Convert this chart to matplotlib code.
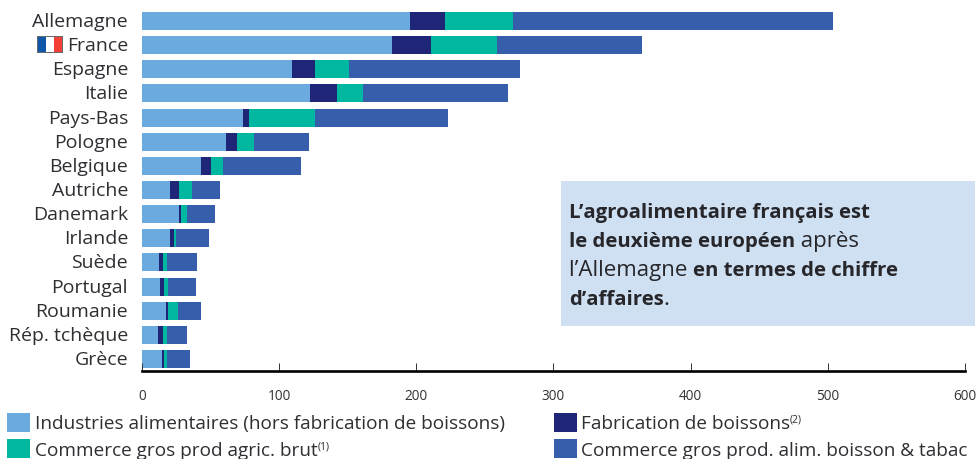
import matplotlib
matplotlib.use("Agg")
import matplotlib.pyplot as plt
from matplotlib.patches import Rectangle
from matplotlib.transforms import ScaledTranslation

countries = ["Allemagne", "France", "Espagne", "Italie", "Pays-Bas", "Pologne", "Belgique", "Autriche",
             "Danemark", "Irlande", "Suède", "Portugal", "Roumanie", "Rép. tchèque", "Grèce"]
industries = [195.4, 182, 109.4, 122.5, 73.5, 61, 43, 20.5, 27, 20.5, 12.4, 13, 17.5, 11.5, 14.6]
boissons = [25.6, 28.7, 16.6, 19.5, 4.5, 8, 7, 6.5, 1.4, 2.9, 2.9, 3, 1.5, 3.5, 1.4]
commerce_agri = [49.5, 48.1, 25, 19, 48, 12.6, 9, 9.5, 4.6, 1.5, 2.9, 3, 7.2, 3, 2.2]
commerce_alim = [233.3, 105.7, 124.6, 106, 97, 40.1, 57, 20.5, 20, 24.2, 21.8, 20.4, 16.8, 15, 16.8]
x_ticks = [0, 100, 200, 300, 400, 500, 600]

series = [
    ("Industries alimentaires (hors fabrication de boissons)", industries, "#6aaade"),
    ("Fabrication de boissons", boissons, "#1f2678"),
    ("Commerce gros prod agric. brut", commerce_agri, "#00b8a0"),
    ("Commerce gros prod. alim. boisson & tabac", commerce_alim, "#375eab"),
]

W, H = 978, 459
FONT = "Open Sans"
TXT = "#2e2e33"
plt.rcParams["font.family"] = [FONT, "DejaVu Sans"]
fig = plt.figure(figsize=(W / 100, H / 100), dpi=100)


def fx(p):
    return p / W


def fy(p):
    return 1 - p / H


ax = fig.add_axes([fx(142), fy(371), fx(965 - 142), 371 / H])
pitch = 24.14
ax.set_xlim(0, 600)
ax.set_ylim((371 - 21) / pitch, -21 / pitch)

left = [0.0] * len(countries)
for name, vals, col in series:
    ax.barh(range(len(countries)), vals, left=left, height=18 / pitch, color=col, linewidth=0)
    left = [a + b for a, b in zip(left, vals)]

for s in ("top", "right", "left"):
    ax.spines[s].set_visible(False)
ax.spines["bottom"].set_linewidth(1.9)
ax.spines["bottom"].set_color("black")
ax.set_xticks(x_ticks)
ax.tick_params(axis="x", direction="in", length=6, width=0.7, pad=13, labelsize=9.8, labelcolor="#333333", color="#333333")
ax.set_yticks(range(len(countries)))
ax.set_yticklabels(countries, fontsize=14, color=TXT)
ax.tick_params(axis="y", length=0, pad=10)
for t in ax.get_yticklabels():
    t.set_transform(t.get_transform() + ScaledTranslation(0, 1 / 100, fig.dpi_scale_trans))


def frect(x0, y0, x1, y1, **kw):
    fig.add_artist(Rectangle((fx(x0), fy(y1)), fx(x1 - x0), (y1 - y0) / H, transform=fig.transFigure, linewidth=kw.pop("lw", 0), **kw))


# Flag
frect(37, 36, 63, 53, facecolor="#666a70")
frect(38, 37, 46, 52, facecolor="#0f57a8")
frect(46, 37, 54, 52, facecolor="#ffffff")
frect(54, 37, 62, 52, facecolor="#f33f35")

# Legend
legend_pos = [(7, 413, 35, 429), (554, 413, 581, 429), (7, 439, 35, 456), (554, 439, 581, 456)]
supers = {1: "(2)", 2: "(1)"}
for i, ((name, _, col), (x, y, tx, base)) in enumerate(zip(series, legend_pos)):
    frect(x, y, x + 23, y + 19, facecolor=col)
    t = fig.text(fx(tx), fy(base), name, fontsize=13.65, color=TXT, va="baseline", ha="left")
    if i in supers:
        fig.add_artist(plt.Annotation(supers[i], xy=(1, 0), xycoords=t, xytext=(0, 7.5), textcoords="offset points",
                                      fontsize=7.5, color=TXT, va="baseline", ha="left", annotation_clip=False))

# Callout
frect(561, 181, 975, 326, facecolor="#cfe0f2")
lines = [
    (218, [("L’agroalimentaire français est", "bold")]),
    (247, [("le deuxième européen", "bold"), (" après", "normal")]),
    (276, [("l’Allemagne ", "normal"), ("en termes de chiffre", "bold")]),
    (305, [("d’affaires", "bold"), (".", "normal")]),
]
for y, parts in lines:
    prev = None
    for s, w in parts:
        fs = 14.7 if w == "bold" else 16
        if prev is None:
            prev = fig.text(fx(569), fy(y), s, fontsize=fs, fontweight=w, color="#26262b", va="baseline", ha="left")
        else:
            a = plt.Annotation(s, xy=(1, 0), xycoords=prev, xytext=(0, 0), textcoords="offset points",
                               fontsize=fs, fontweight=w, color="#26262b", va="bottom", ha="left", annotation_clip=False)
            fig.add_artist(a)
            prev = a

fig.savefig("out.png", dpi=100)
